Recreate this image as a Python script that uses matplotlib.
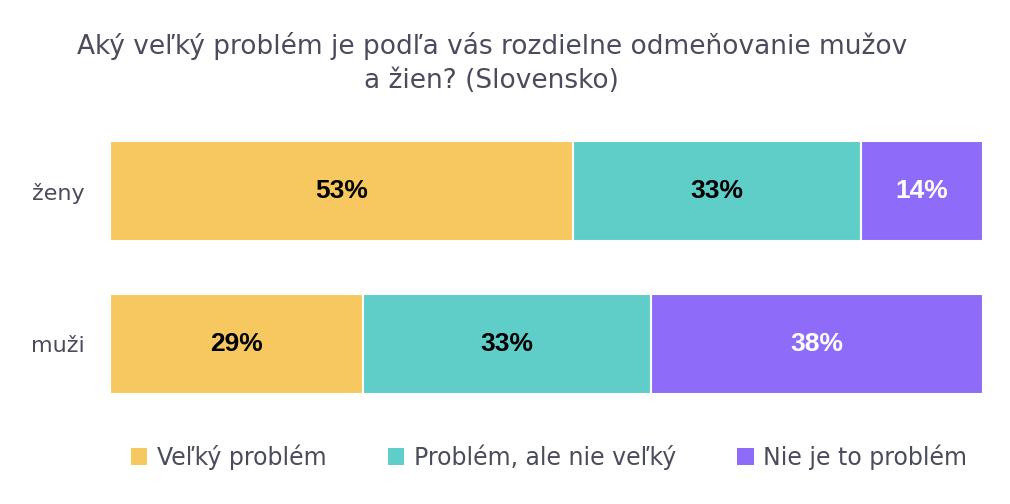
import matplotlib.pyplot as plt
from matplotlib.patches import Patch

groups = ["ženy", "muži"]
series = ["Veľký problém", "Problém, ale nie veľký", "Nie je to problém"]
values = {
    "Veľký problém": [53, 29],
    "Problém, ale nie veľký": [33, 33],
    "Nie je to problém": [14, 38],
}
colors = ["#F6C85F", "#5FCEC8", "#8F6BF9"]
label_colors = ["black", "black", "white"]
title = "Aký veľký problém je podľa vás rozdielne odmeňovanie mužov\na žien? (Slovensko)"
text_col = "#4B4B5E"

fig = plt.figure(figsize=(10.1, 5.04), dpi=100)
ax = fig.add_axes([110 / 1010, 1 - 394 / 504, 873 / 1010, 253 / 504])

ypos = list(range(len(groups)))
left = [0] * len(groups)
for s, c, lc in zip(series, colors, label_colors):
    vals = values[s]
    bars = ax.barh(ypos, vals, left=left, height=0.654, color=c,
                   edgecolor="white", linewidth=1.5)
    for b, v in zip(bars, vals):
        ax.text(b.get_x() + b.get_width() / 2, b.get_y() + b.get_height() / 2,
                f"{v}%", ha="center", va="center", color=lc,
                fontsize=19, fontweight="bold", family="Liberation Sans")
    left = [l + v for l, v in zip(left, vals)]

ax.set_xlim(0, 100)
ax.set_ylim(1.327, -0.327)
ax.set_yticks(ypos)
ax.set_yticklabels(groups, fontsize=16, color=text_col, family="DejaVu Sans")
ax.tick_params(axis="y", length=0, pad=18)
ax.set_xticks([])
for sp in ax.spines.values():
    sp.set_visible(False)

fig.text(0.487, 0.875, title, ha="center", va="center", fontsize=19,
         color=text_col, family="DejaVu Sans", linespacing=1.35)

handles = [Patch(facecolor=c, edgecolor="none") for c in colors]
fig.legend(handles, series, loc="center", bbox_to_anchor=(0.5436, 0.093), ncol=3,
           frameon=False, handlelength=0.7, handleheight=0.7, handletextpad=0.4,
           columnspacing=2.6, prop={"family": "DejaVu Sans", "size": 17},
           labelcolor=text_col)

fig.savefig("out.png", dpi=100)
